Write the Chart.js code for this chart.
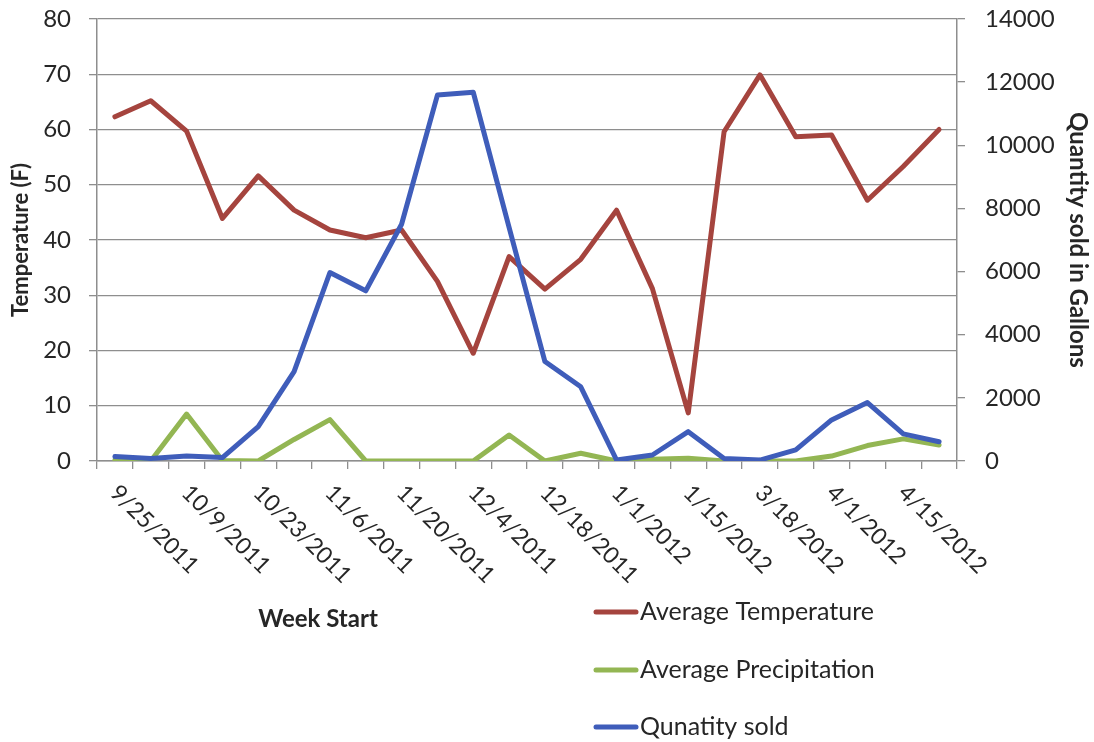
<!DOCTYPE html>
<html>
<head>
<meta charset="utf-8">
<title>Weekly temperature, precipitation and quantity sold</title>
<script src="https://cdn.jsdelivr.net/npm/chart.js@4.4.1/dist/chart.umd.min.js"></script>
<style>
  html, body { margin: 0; padding: 0; background: #ffffff; }
  #wrap { width: 1094px; height: 742px; }
</style>
</head>
<body>
<div id="wrap"><canvas id="chart" width="1094" height="742"></canvas></div>
<script>
// Week start dates (every other one is labelled on the axis)
const weeks = [
  '9/25/2011', '10/2/2011', '10/9/2011', '10/16/2011', '10/23/2011', '10/30/2011',
  '11/6/2011', '11/13/2011', '11/20/2011', '11/27/2011', '12/4/2011', '12/11/2011',
  '12/18/2011', '12/25/2011', '1/1/2012', '1/8/2012', '1/15/2012', '3/11/2012',
  '3/18/2012', '3/25/2012', '4/1/2012', '4/8/2012', '4/15/2012', '4/22/2012'
];

// Average temperature (F), left axis
const avgTemperature = [
  62.3, 65.2, 59.7, 43.9, 51.6, 45.4, 41.8, 40.4, 41.8, 32.5, 19.5, 37.0,
  31.1, 36.5, 45.4, 31.2, 8.7, 59.6, 69.9, 58.7, 59.0, 47.2, 53.3, 60.0
];

// Average precipitation, left axis
const avgPrecipitation = [
  0.2, 0.0, 8.5, 0.1, 0.0, 3.9, 7.5, 0.0, 0.0, 0.0, 0.0, 4.7,
  0.0, 1.4, 0.0, 0.3, 0.5, 0.0, 0.0, 0.0, 0.9, 2.8, 4.0, 2.9
];

// Quantity sold in gallons, right axis
const quantitySold = [
  140, 80, 160, 110, 1090, 2830, 5970, 5390, 7500, 11590, 11680, 7400,
  3150, 2350, 30, 190, 930, 80, 30, 350, 1300, 1850, 860, 610
];

// Axis tick values
const tempTicks = [0, 10, 20, 30, 40, 50, 60, 70, 80];
const qtyTicks = [0, 2000, 4000, 6000, 8000, 10000, 12000, 14000];

const seriesNames = ['Average Temperature', 'Average Precipitation', 'Qunatity sold'];
const seriesColors = ['#A5443E', '#93B653', '#3F5DBA'];

const FONT = 'Lato, "Open Sans", "DejaVu Sans", sans-serif';
const TEXT = '#262626';
const GRID = '#8e8e8e';

// Rotated week labels, the x-axis caption and the stacked legend
const extrasPlugin = {
  id: 'extras',
  afterDraw(chart) {
    const ctx = chart.ctx;
    const xs = chart.scales.x;
    ctx.save();
    ctx.fillStyle = TEXT;
    ctx.font = '23px ' + FONT;
    ctx.textAlign = 'left';
    ctx.textBaseline = 'middle';
    weeks.forEach((w, i) => {
      if (i % 2 !== 0) return;
      const px = xs.getPixelForValue(i);
      ctx.save();
      ctx.translate(px - 1, xs.top + 28);
      ctx.rotate(Math.PI / 4);
      ctx.fillText(w, 0, 0);
      ctx.restore();
    });

    // axis caption
    ctx.font = 'bold 24px ' + FONT;
    ctx.textAlign = 'center';
    ctx.fillText('Week Start', 318, 619);

    // legend
    const rows = [612, 670, 727];
    ctx.font = '25px ' + FONT;
    ctx.textAlign = 'left';
    chart.data.datasets.forEach((ds, i) => {
      const y = rows[i];
      ctx.strokeStyle = ds.borderColor;
      ctx.lineWidth = 5;
      ctx.lineCap = 'round';
      ctx.beginPath();
      ctx.moveTo(596, y);
      ctx.lineTo(636, y);
      ctx.stroke();
      ctx.fillStyle = TEXT;
      ctx.fillText(ds.label, 640, y);
    });
    ctx.restore();
  }
};

const lineStyle = {
  borderWidth: 5,
  pointRadius: 0,
  pointHoverRadius: 0,
  tension: 0,
  fill: false,
  borderJoinStyle: 'round',
  borderCapStyle: 'round'
};

// fixed axis box sizes so the plot area sits at a known place
function fixVertical(width) {
  return function (scale) {
    scale.width = width;
    scale.paddingTop = 0;
    scale.paddingBottom = 0;
  };
}

new Chart(document.getElementById('chart'), {
  type: 'line',
  data: {
    labels: weeks,
    datasets: [
      Object.assign({ label: seriesNames[0], data: avgTemperature, borderColor: seriesColors[0], backgroundColor: seriesColors[0], yAxisID: 'y', order: 3 }, lineStyle),
      Object.assign({ label: seriesNames[1], data: avgPrecipitation, borderColor: seriesColors[1], backgroundColor: seriesColors[1], yAxisID: 'y', order: 2 }, lineStyle),
      Object.assign({ label: seriesNames[2], data: quantitySold, borderColor: seriesColors[2], backgroundColor: seriesColors[2], yAxisID: 'y1', order: 1 }, lineStyle)
    ]
  },
  options: {
    responsive: false,
    animation: false,
    devicePixelRatio: 1,
    layout: { padding: { top: 19, left: 0, right: 0, bottom: 0 } },
    plugins: {
      legend: { display: false },
      tooltip: { enabled: false }
    },
    scales: {
      x: {
        type: 'category',
        offset: true,
        grid: { display: true, offset: true, drawOnChartArea: false, drawTicks: true, tickLength: 8, color: GRID, lineWidth: 1.3 },
        border: { display: true, color: GRID, width: 1.5 },
        ticks: { display: false, autoSkip: false },
        afterFit(scale) { scale.height = 281; }
      },
      y: {
        position: 'left',
        min: tempTicks[0],
        max: tempTicks[tempTicks.length - 1],
        afterBuildTicks(scale) { scale.ticks = tempTicks.map(v => ({ value: v })); },
        grid: { color: GRID, lineWidth: 1.3, drawTicks: true, tickLength: 8 },
        border: { display: true, color: GRID, width: 1.5 },
        ticks: { color: TEXT, font: { family: FONT, size: 24 }, padding: 18, callback: v => String(v) },
        title: { display: true, text: 'Temperature (F)', color: TEXT, font: { family: FONT, size: 22, weight: 'bold' }, padding: { top: 8, bottom: 0 } },
        afterFit: fixVertical(97)
      },
      y1: {
        position: 'right',
        min: qtyTicks[0],
        max: qtyTicks[qtyTicks.length - 1],
        afterBuildTicks(scale) { scale.ticks = qtyTicks.map(v => ({ value: v })); },
        grid: { drawOnChartArea: false, drawTicks: true, tickLength: 8, color: GRID, lineWidth: 1.3 },
        border: { display: true, color: GRID, width: 1.5 },
        ticks: { color: TEXT, font: { family: FONT, size: 24 }, padding: 20, callback: v => String(v) },
        title: { display: true, text: 'Quantity sold in Gallons', color: TEXT, font: { family: FONT, size: 24, weight: 'bold' }, padding: { top: 2, bottom: 0 } },
        afterFit: fixVertical(137)
      }
    }
  },
  plugins: [extrasPlugin]
});
</script>
</body>
</html>
